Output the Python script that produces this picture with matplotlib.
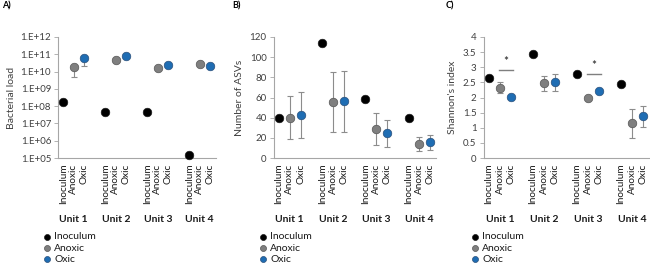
import matplotlib
matplotlib.use("Agg")
import matplotlib.pyplot as plt
from matplotlib.ticker import FixedLocator, FuncFormatter
import numpy as np

plt.rcParams['font.family'] = ['Lato', 'DejaVu Sans']

units = ['Unit 1', 'Unit 2', 'Unit 3', 'Unit 4']
conditions = ['Inoculum', 'Anoxic', 'Oxic']

# Panel A: bacterial load
load_inoc = [1.7e8, 4.4e7, 4.4e7, 1.45e5]
load_anoxic = [1.8e10, 4.7e10, 1.7e10, 2.6e10]
load_anoxic_lo = [5.0e9, 4.7e10, 1.7e10, 2.6e10]
load_anoxic_hi = [1.8e10, 4.7e10, 1.7e10, 2.6e10]
load_oxic = [6.0e10, 8.0e10, 2.5e10, 2.2e10]
load_oxic_lo = [2.0e10, 8.0e10, 1.8e10, 2.2e10]
load_oxic_hi = [6.0e10, 8.0e10, 2.5e10, 2.2e10]
load_ticks = [1e5, 1e6, 1e7, 1e8, 1e9, 1e10, 1e11, 1e12]

# Panel B: number of ASVs
asv_inoc = [40, 114, 59, 40]
asv_anoxic = [40, 56, 29, 14]
asv_anoxic_lo = [19, 26, 13, 7]
asv_anoxic_hi = [61, 85, 45, 21]
asv_oxic = [43, 56.5, 25, 16]
asv_oxic_lo = [20, 26, 11, 8]
asv_oxic_hi = [65, 86, 38, 23]
asv_ticks = [0, 20, 40, 60, 80, 100, 120]

# Panel C: Shannon index
sh_inoc = [2.65, 3.45, 2.77, 2.43]
sh_anoxic = [2.33, 2.47, 2.0, 1.15]
sh_anoxic_lo = [2.16, 2.20, 2.0, 0.65]
sh_anoxic_hi = [2.52, 2.72, 2.0, 1.63]
sh_oxic = [2.02, 2.50, 2.2, 1.38]
sh_oxic_lo = [2.02, 2.23, 2.2, 1.03]
sh_oxic_hi = [2.02, 2.77, 2.2, 1.72]
sh_ticks = [0, 0.5, 1, 1.5, 2, 2.5, 3, 3.5, 4]
sig_units = [0, 2]          # Unit 1 and Unit 3
sig_line_y = [2.9, 2.78]

C_INOC = '#000000'
C_ANOX = '#7F7F7F'
C_OXIC = '#1F6DB3'
C_ERR = '#8C8C8C'
C_SPINE = '#A6A6A6'
C_TXT = '#404040'

W, H = 650, 268
fig = plt.figure(figsize=(W / 100, H / 100), dpi=100)

def rect(l, r, t=37, b=158):
    return [l / W, (H - b) / H, (r - l) / W, (b - t) / H]

axA = fig.add_axes(rect(58, 215.5))
axB = fig.add_axes(rect(273.6, 435.6))
axC = fig.add_axes(rect(483.5, 648.5))

# x positions: 3 per unit, gap between units
pos = np.array([[u * 4 + k for k in range(3)] for u in range(4)])
x_inoc, x_anox, x_oxic = pos[:, 0], pos[:, 1], pos[:, 2]

def draw(ax, inoc, anox, anox_lo, anox_hi, oxic, oxic_lo, oxic_hi):
    anox = np.array(anox); oxic = np.array(oxic)
    ax.errorbar(x_anox, anox, yerr=[anox - np.array(anox_lo), np.array(anox_hi) - anox],
                fmt='none', ecolor=C_ERR, elinewidth=0.8, capsize=2, capthick=0.8, zorder=2)
    ax.errorbar(x_oxic, oxic, yerr=[oxic - np.array(oxic_lo), np.array(oxic_hi) - oxic],
                fmt='none', ecolor=C_ERR, elinewidth=0.8, capsize=2, capthick=0.8, zorder=2)
    h1 = ax.scatter(x_inoc, inoc, s=38, color=C_INOC, edgecolor='#1a1a1a', linewidth=0.5,
                    zorder=3, label='Inoculum', clip_on=False)
    h2 = ax.scatter(x_anox, anox, s=38, color=C_ANOX, edgecolor='#555555', linewidth=0.5,
                    zorder=3, label='Anoxic', clip_on=False)
    h3 = ax.scatter(x_oxic, oxic, s=38, color=C_OXIC, edgecolor='#2a4f7a', linewidth=0.5,
                    zorder=3, label='Oxic', clip_on=False)
    ax.set_xlim(-0.5, 14.5)
    ax.set_xticks(pos.flatten())
    ax.set_xticklabels(conditions * 4, rotation=90, fontsize=7.2, color='#1a1a1a',
                       va='top', ha='center')
    ax.tick_params(axis='x', length=0, pad=4)
    ax.tick_params(axis='y', length=3, width=0.6, color=C_SPINE, labelsize=7,
                   labelcolor=C_TXT, pad=2)
    for s in ['top', 'right']:
        ax.spines[s].set_visible(False)
    for s in ['left', 'bottom']:
        ax.spines[s].set_color(C_SPINE)
        ax.spines[s].set_linewidth(0.8)
    for u in range(4):
        ax.text(pos[u, 1], -0.505, units[u], transform=ax.get_xaxis_transform(),
                ha='center', va='center', fontsize=7.5, fontweight='bold', color='#1a1a1a')
    return [h1, h2, h3]

hA = draw(axA, load_inoc, load_anoxic, load_anoxic_lo, load_anoxic_hi,
          load_oxic, load_oxic_lo, load_oxic_hi)
axA.set_yscale('log')
axA.set_ylim(1e5, 1e12)
axA.yaxis.set_major_locator(FixedLocator(load_ticks))
axA.yaxis.set_minor_locator(FixedLocator([]))
axA.yaxis.set_major_formatter(FuncFormatter(lambda v, p: '1.E+%02d' % round(np.log10(v))))
axA.set_ylabel('Bacterial load', fontsize=7.5, color=C_TXT, labelpad=3)

hB = draw(axB, asv_inoc, asv_anoxic, asv_anoxic_lo, asv_anoxic_hi,
          asv_oxic, asv_oxic_lo, asv_oxic_hi)
axB.set_ylim(0, 120)
axB.set_yticks(asv_ticks)
axB.set_ylabel('Number of ASVs', fontsize=7.5, color=C_TXT, labelpad=4)

hC = draw(axC, sh_inoc, sh_anoxic, sh_anoxic_lo, sh_anoxic_hi,
          sh_oxic, sh_oxic_lo, sh_oxic_hi)
axC.set_ylim(0, 4)
axC.set_yticks(sh_ticks)
axC.yaxis.set_major_formatter(FuncFormatter(lambda v, p: ('%g' % v)))
axC.set_ylabel("Shannon's index", fontsize=7.5, color=C_TXT, labelpad=4)
for u, yl in zip(sig_units, sig_line_y):
    axC.plot([pos[u, 1] - 0.1, pos[u, 2] + 0.2], [yl, yl], color='#7F7F7F', lw=1.0, zorder=2)
    axC.text((pos[u, 1] + pos[u, 2]) / 2 + 0.05, yl + 0.1, '*', ha='center', va='bottom',
             fontsize=8.5, color='#1a1a1a')

# panel labels
fig.text(2 / W, 1 - 6 / H, 'A)', fontsize=6.5, fontweight='bold', va='center', ha='left')
fig.text(232 / W, 1 - 6 / H, 'B)', fontsize=6.5, fontweight='bold', va='center', ha='left')
fig.text(446 / W, 1 - 6 / H, 'C)', fontsize=6.5, fontweight='bold', va='center', ha='left')

# legends
for ax, hs, xl in [(axA, hA, 44), (axB, hB, 260), (axC, hC, 472)]:
    ax.legend(handles=hs, loc='upper left', bbox_to_anchor=(xl / W, 1 - 232 / H),
              bbox_transform=fig.transFigure, frameon=False, fontsize=7.5,
              borderpad=0, borderaxespad=0, handlelength=0.6, handletextpad=0.4,
              labelspacing=0.2, markerscale=0.7, labelcolor='#1a1a1a')

fig.savefig('out.png', dpi=100)
